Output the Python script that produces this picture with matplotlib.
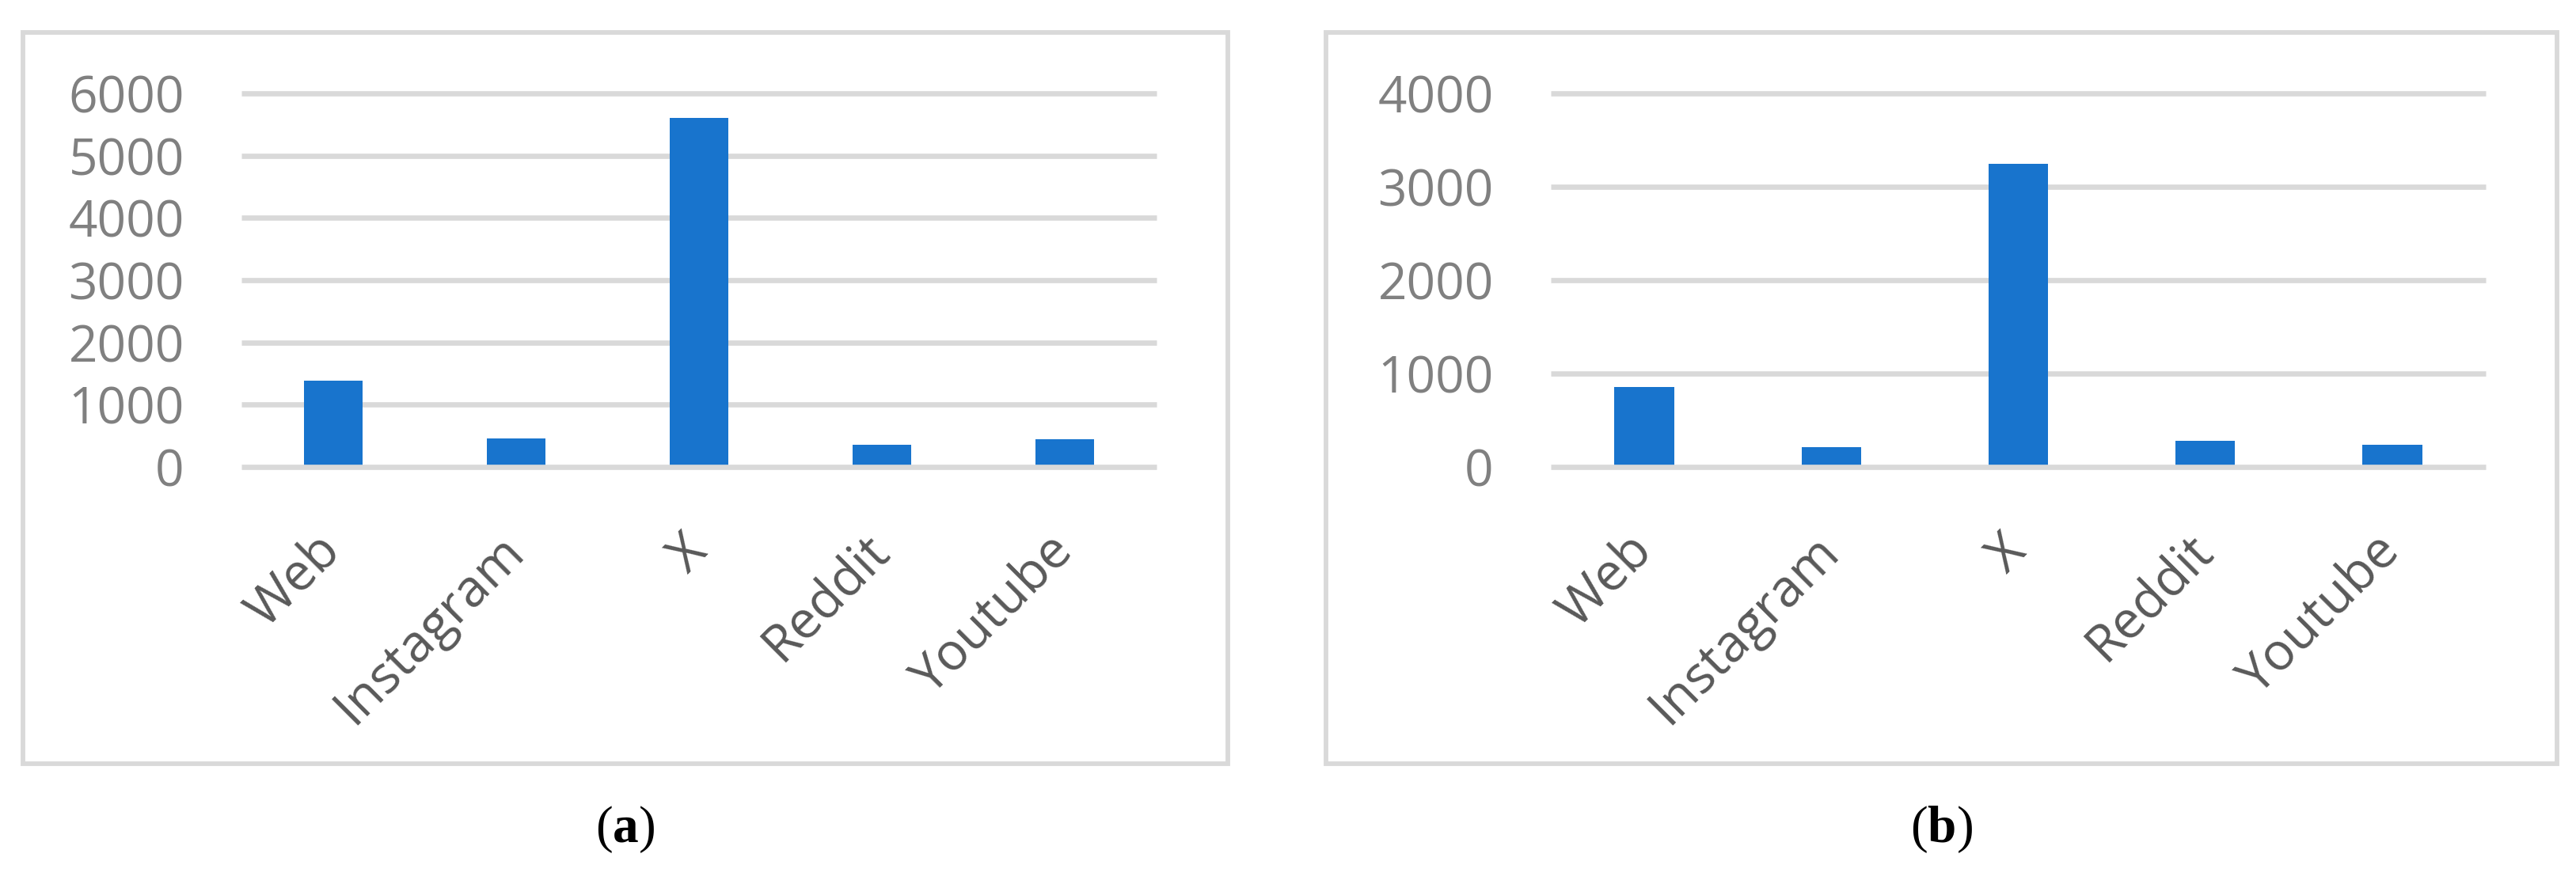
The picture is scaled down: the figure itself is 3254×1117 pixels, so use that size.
import matplotlib.pyplot as plt
from matplotlib.patches import Rectangle


# ==========================================================
# DATA
# ==========================================================

categories = ["Web", "Instagram", "X", "Reddit", "Youtube"]

values_a = [1390, 460, 5600, 355, 448]
values_b = [857, 213, 3248, 280, 238]

yticks_a = [0, 1000, 2000, 3000, 4000, 5000, 6000]
yticks_b = [0, 1000, 2000, 3000, 4000]

captions = ["a", "b"]


# ==========================================================
# STYLE
# ==========================================================

BAR_COLOR = "#1874CD"
GRID_COLOR = "#D9D9D9"
YLABEL_COLOR = "#808080"
XLABEL_COLOR = "#595959"

plt.rcParams["mathtext.fontset"] = "custom"
plt.rcParams["mathtext.rm"] = "Liberation Serif"
plt.rcParams["mathtext.bf"] = "Liberation Serif:bold"

W, H = 3255, 1117
DPI = 100


def fx(px):
    return px / W


def fy(py):
    return 1 - py / H


# ==========================================================
# ONE PANEL
# ==========================================================

def dibujar_panel(fig, rect, valores, yticks, frame, caption):

    ax = fig.add_axes(rect)

    x = list(range(len(categories)))

    ax.bar(x, valores, width=0.32, color=BAR_COLOR, zorder=2)

    for t in yticks:
        ax.axhline(t, color=GRID_COLOR, linewidth=4.8,
                   solid_capstyle="butt", clip_on=False,
                   zorder=3 if t == 0 else 1)

    ax.set_xlim(-0.5, len(categories) - 0.5)
    ax.set_ylim(0, yticks[-1])

    ax.set_yticks(yticks)
    ax.set_yticklabels([str(t) for t in yticks], fontsize=46,
                       color=YLABEL_COLOR, family="Open Sans")

    ax.set_xticks(x)
    ax.set_xticklabels(categories, fontsize=47, color=XLABEL_COLOR,
                       family="Open Sans", rotation=45, ha="right",
                       va="center", rotation_mode="anchor")

    ax.tick_params(axis="y", length=0, pad=52)
    ax.tick_params(axis="x", length=0, pad=70)

    for s in ax.spines.values():
        s.set_visible(False)

    # marco gris alrededor del gráfico
    x0, y0, x1, y1 = frame
    fig.patches.append(Rectangle(
        (fx(x0), fy(y1)), fx(x1 - x0), (y1 - y0) / H,
        transform=fig.transFigure, fill=False,
        edgecolor=GRID_COLOR, linewidth=4.2
    ))

    fig.text(fx((x0 + x1) / 2), fy(1048),
             r"($\mathbf{" + caption + r"}$)",
             fontsize=47, family="Liberation Serif",
             ha="center", va="center", color="black")

    return ax


# ==========================================================
# MAIN
# ==========================================================

def main():

    fig = plt.figure(figsize=(W / DPI, H / DPI), dpi=DPI)

    y_bot = fy(590)
    y_top = fy(118)

    dibujar_panel(
        fig,
        [fx(305), y_bot, fx(1461 - 305), y_top - y_bot],
        values_a, yticks_a,
        (29, 41, 1551, 965),
        captions[0]
    )

    dibujar_panel(
        fig,
        [fx(1959), y_bot, fx(3140 - 1959), y_top - y_bot],
        values_b, yticks_b,
        (1675, 41, 3230, 965),
        captions[1]
    )

    fig.savefig("out.png", dpi=DPI, facecolor="white")


if __name__ == "__main__":
    main()
